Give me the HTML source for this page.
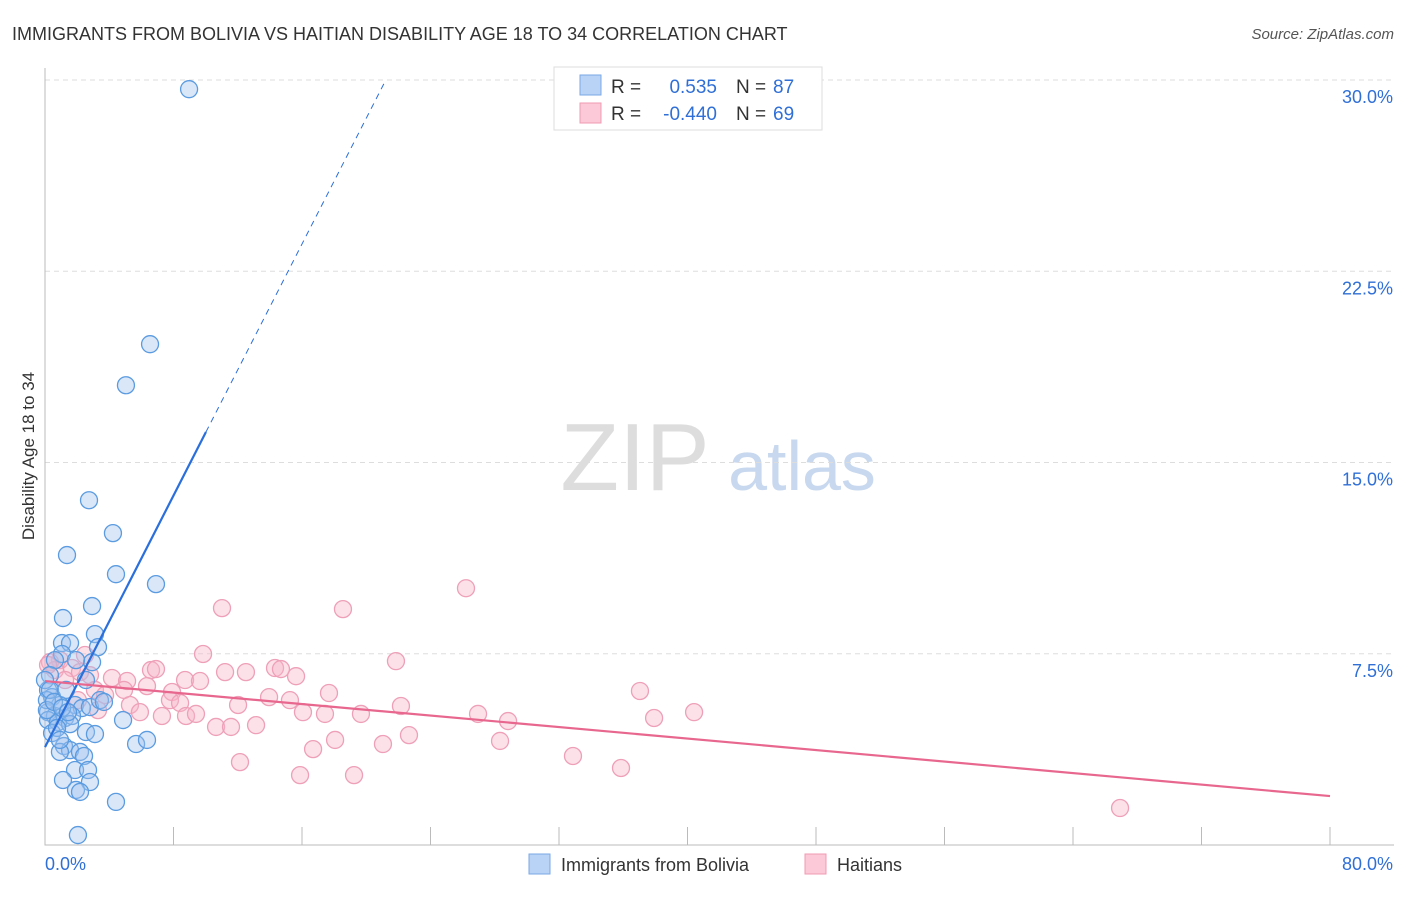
<!DOCTYPE html>
<html><head><meta charset="utf-8"><style>
body{margin:0;background:#fff;font-family:"Liberation Sans",sans-serif;}
svg text{font-family:"Liberation Sans",sans-serif;}
</style></head><body>
<svg id="chart" width="1406" height="892" xmlns="http://www.w3.org/2000/svg">
<text x="12" y="40" font-size="18" fill="#333">IMMIGRANTS FROM BOLIVIA VS HAITIAN DISABILITY AGE 18 TO 34 CORRELATION CHART</text>
<text x="1394" y="39" font-size="15" fill="#555" font-style="italic" text-anchor="end">Source: ZipAtlas.com</text>
<text x="34" y="456" font-size="17" fill="#333" text-anchor="middle" transform="rotate(-90 34 456)">Disability Age 18 to 34</text>
<g><text x="635" y="490" font-size="96" fill="#ddd" font-family="Liberation Serif" text-anchor="middle">ZIP</text><text x="802" y="490" font-size="70" fill="#c8d8ee" text-anchor="middle">atlas</text></g>
<g id="grid"></g><g id="axes"></g><g id="pts"></g><g id="lines"></g>
<g>
<rect x="554" y="67" width="268" height="63" fill="#fff" stroke="#ddd"/>
<rect x="580" y="75" width="21" height="20" fill="#b8d3f5" stroke="#7aaae6"/>
<rect x="580" y="103" width="21" height="20" fill="#fbc9d7" stroke="#f09ab3"/>
<text x="611" y="93" font-size="19" fill="#333">R =</text><text x="717" y="93" font-size="19" fill="#2f6fd6" text-anchor="end">0.535</text>
<text x="736" y="93" font-size="19" fill="#333">N =</text><text x="773" y="93" font-size="19" fill="#2f6fd6">87</text>
<text x="611" y="120" font-size="19" fill="#333">R =</text><text x="717" y="120" font-size="19" fill="#2f6fd6" text-anchor="end">-0.440</text>
<text x="736" y="120" font-size="19" fill="#333">N =</text><text x="773" y="120" font-size="19" fill="#2f6fd6">69</text>
</g>
<g>
<rect x="529" y="854" width="21" height="20" fill="#b8d3f5" stroke="#7aaae6"/>
<text x="561" y="871" font-size="18" fill="#333">Immigrants from Bolivia</text>
<rect x="805" y="854" width="21" height="20" fill="#fbc9d7" stroke="#f09ab3"/>
<text x="837" y="871" font-size="18" fill="#333">Haitians</text>
</g>
</svg>
<script>
const xTicks=[0,10,20,30,40,50,60,70,80];
const yTicks=[7.5,15,22.5,30];
const yTickLabels=["7.5%","15.0%","22.5%","30.0%"];
const blueX=[8.97,6.54,5.04,2.74,4.23,1.37,4.42,6.91,2.93,1.12,3.11,1.06,3.30,1.56,1.06,2.93,1.93,0.62,0.31,2.55,0.19,0.44,0.93,1.87,2.30,2.80,0.19,0.62,1.25,1.68,0.19,0.81,1.56,2.55,3.11,0.44,1.18,1.56,2.18,0.93,2.43,4.86,5.67,6.35,1.87,2.68,1.12,2.80,1.93,2.18,4.42,2.05,0,0.12,0.12,0.31,0.56,1.06,1.43,0.75,1.31,3.42,3.67,0.93];
const blueY=[29.64,19.64,18.03,13.52,12.23,11.37,10.62,10.23,9.37,8.90,8.27,7.92,7.76,7.92,7.49,7.17,7.25,7.25,6.66,6.47,6.08,5.80,5.49,5.49,5.37,5.41,5.21,5.06,4.98,5.06,4.90,4.82,4.74,4.43,4.35,4.39,3.88,3.72,3.65,3.65,3.49,4.90,3.96,4.12,2.94,2.94,2.55,2.47,2.16,2.08,1.69,0.39,6.47,5.68,5.29,6.08,5.61,5.37,5.21,4.59,6.08,5.68,5.61,4.12];
const pinkX=[26.21,11.02,18.55,21.85,9.84,14.32,14.69,12.51,11.21,6.60,6.91,15.63,37.04,4.17,5.11,6.35,4.92,7.91,8.72,9.65,7.78,8.41,12.02,13.95,15.25,17.68,22.16,16.06,17.43,19.67,26.96,28.83,37.92,40.41,10.65,11.58,13.14,8.78,7.28,9.40,16.69,18.06,21.04,22.66,28.33,12.14,15.88,19.24,32.87,35.86,66.93,0.93,0.31,0.62,1.68,2.18,2.80,3.11,3.74,5.29,5.91,3.30,2.49,1.25,0.19,2.05];
const pinkY=[10.07,9.29,9.25,7.21,7.49,6.94,6.90,6.78,6.78,6.86,6.90,6.62,6.04,6.55,6.43,6.23,6.08,6.00,6.47,6.43,5.68,5.57,5.49,5.80,5.68,5.96,5.45,5.21,5.14,5.14,5.14,4.86,4.98,5.21,4.63,4.63,4.70,5.06,5.06,5.14,3.76,4.12,3.96,4.31,4.08,3.25,2.74,2.74,3.49,3.02,1.45,7.25,7.17,6.86,6.94,6.78,6.66,6.08,5.88,5.49,5.21,5.29,7.45,6.47,7.06,5.68];
const blueTrend=[3.84,1.233];
const pinkTrend=[6.43,-0.0564];
const X=v=>45+v/80*1285, Y=v=>845-v/30*765;
const NS="http://www.w3.org/2000/svg";
function mk(p,t,a){const e=document.createElementNS(NS,t);for(const k in a)e.setAttribute(k,a[k]);document.getElementById(p).appendChild(e);return e;}
yTicks.forEach((t,i)=>{
 const g=mk('grid','line',{x1:45,x2:1394,y1:Y(t),y2:Y(t),stroke:'#ddd','stroke-dasharray':'5,4'});
 
 
 const l=mk('axes','text',{x:1393,y:Y(t)+23,'font-size':18,fill:'#2f6fd6','text-anchor':'end'});
 l.textContent=yTickLabels[i];
 
 
});
const ax=mk('axes','path',{d:'M45,68 V845 H1394',stroke:'#bbb',fill:'none'});


for(let i=0;i<=10;i++){const v=i*8;const t=mk('axes','line',{x1:X(v),x2:X(v),y1:827,y2:845,stroke:'#bbb'});
 
 }
const x0=mk('axes','text',{x:45,y:870,'font-size':18,fill:'#2f6fd6'});x0.textContent='0.0%';


const x1=mk('axes','text',{x:1393,y:870,'font-size':18,fill:'#2f6fd6','text-anchor':'end'});x1.textContent='80.0%';


pinkX.forEach((v,i)=>{const c=mk('pts','circle',{cx:X(v),cy:Y(pinkY[i]),r:8.5,fill:'rgba(248,180,200,0.4)',stroke:'#eea0b8','stroke-width':1.3});
 
 });
blueX.forEach((v,i)=>{const c=mk('pts','circle',{cx:X(v),cy:Y(blueY[i]),r:8.5,fill:'rgba(160,196,240,0.4)',stroke:'#5b9be0','stroke-width':1.3});
 
 });
const bxe=10.02, bxd=(30-blueTrend[0])/blueTrend[1];
const bl=mk('lines','line',{x1:X(0),y1:Y(blueTrend[0]),x2:X(bxe),y2:Y(blueTrend[0]+blueTrend[1]*bxe),stroke:'#2a6fdb','stroke-width':2.2});


const bd=mk('lines','line',{x1:X(bxe),y1:Y(blueTrend[0]+blueTrend[1]*bxe),x2:X(bxd),y2:Y(30),stroke:'#2a6fdb','stroke-width':1,'stroke-dasharray':'6,5'});


const pl=mk('lines','line',{x1:X(0),y1:Y(pinkTrend[0]),x2:X(80),y2:Y(pinkTrend[0]+pinkTrend[1]*80),stroke:'#e8678f','stroke-width':2.2});


</script>
</body></html>
